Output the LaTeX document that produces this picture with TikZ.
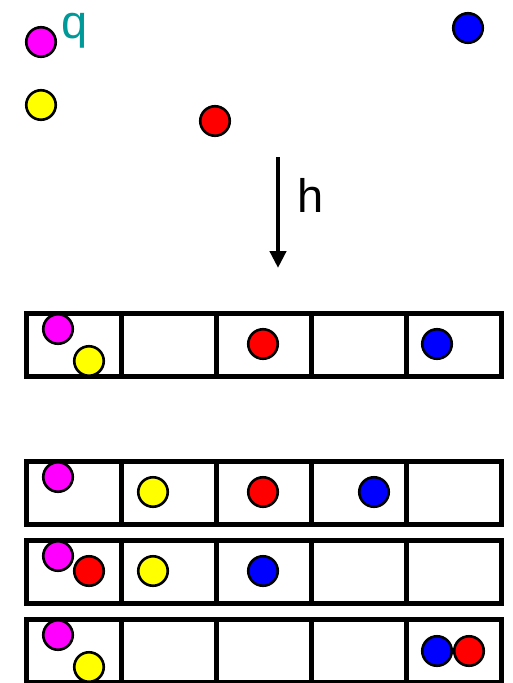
\documentclass[tikz,border=0pt]{standalone}
\usepackage{fontspec}
\setmainfont{Liberation Sans}
\usetikzlibrary{arrows.meta}
\definecolor{ballmagenta}{RGB}{255,0,255}
\definecolor{ballyellow}{RGB}{255,255,0}
\definecolor{ballred}{RGB}{255,0,0}
\definecolor{ballblue}{RGB}{0,0,255}
\definecolor{qteal}{RGB}{0,153,153}
\tikzset{
  ball/.style={circle, draw=black, line width=2.6pt, minimum size=29.5pt, inner sep=0pt},
  cellrow/.style={draw=black, line width=5pt},
  biglabel/.style={inner sep=0pt, font=\fontsize{47}{56}\selectfont},
}
\begin{document}
\begin{tikzpicture}[x=1pt, y=-1pt]
\useasboundingbox (0,0) rectangle (512,683);

% the five-cell rows
\foreach \r/\top in {1/313, 2/461, 3/540, 4/619} {
  \draw[cellrow] (26,\top) rectangle (501,\top+63);
  \foreach \xx in {121,216,311,406}
    \draw[cellrow] (\xx,\top) -- (\xx,\top+63);
}

% loose balls at the top
\node[ball, fill=ballmagenta] (m0) at (41,42) {};
\node[ball, fill=ballyellow] (y0) at (41,105) {};
\node[ball, fill=ballred] (r0) at (215,121) {};
\node[ball, fill=ballblue] (b0) at (468,28) {};
\node[biglabel, text=qteal, anchor=base west] (q) at (61,38) {q};

% mapping arrow
\coordinate (hs) at (278,157);
\coordinate (he) at (278,268);
\draw[line width=4.5pt, -{Triangle[width=16pt,length=17pt]}] (hs) -- (he);
\node[biglabel, anchor=base west] (h) at (297,212.5) {h};

% row 1
\node[ball, fill=ballmagenta] (m1) at (58,329) {};
\node[ball, fill=ballyellow] (y1) at (89,361) {};
\node[ball, fill=ballred] (r1) at (263,344) {};
\node[ball, fill=ballblue] (b1) at (437,344) {};

% row 2
\node[ball, fill=ballmagenta] (m2) at (58,477) {};
\node[ball, fill=ballyellow] (y2) at (153,492) {};
\node[ball, fill=ballred] (r2) at (263,492) {};
\node[ball, fill=ballblue] (b2) at (374,492) {};

% row 3
\node[ball, fill=ballmagenta] (m3) at (58,556) {};
\node[ball, fill=ballred] (r3) at (89,571) {};
\node[ball, fill=ballyellow] (y3) at (153,571) {};
\node[ball, fill=ballblue] (b3) at (263,571) {};

% row 4
\node[ball, fill=ballmagenta] (m4) at (58,635) {};
\node[ball, fill=ballyellow] (y4) at (89,667) {};
\node[ball, fill=ballblue] (b4) at (437,651) {};
\node[ball, fill=ballred] (r4) at (469,651) {};
\end{tikzpicture}
\end{document}
